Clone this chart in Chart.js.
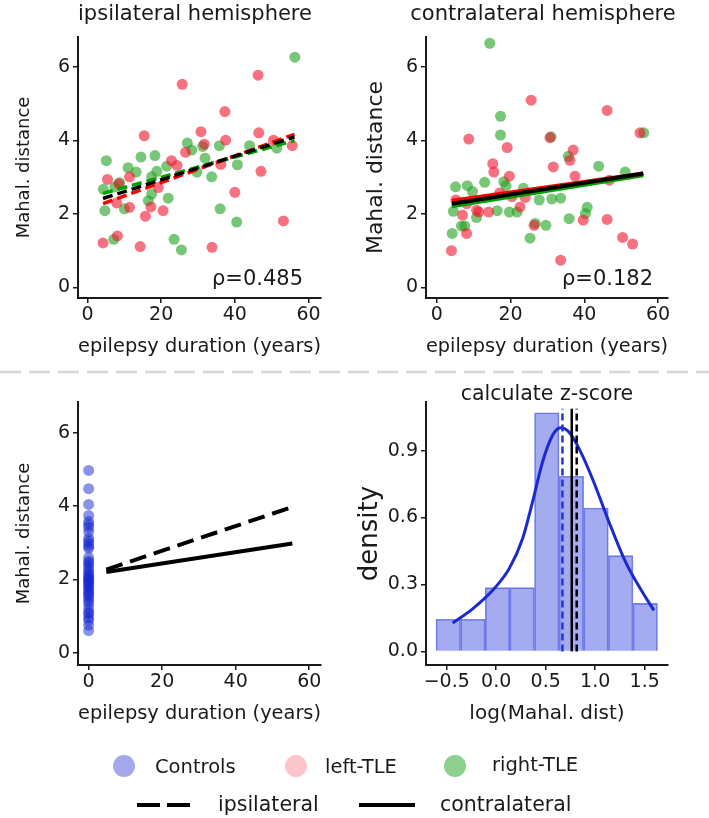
<!DOCTYPE html>
<html>
<head>
<meta charset="utf-8">
<script src="https://cdn.jsdelivr.net/npm/chart.js@4.4.1/dist/chart.umd.min.js"></script>
<style>
  html, body { margin: 0; padding: 0; background: #fff; }
  #page { position: relative; width: 709px; height: 818px; overflow: hidden; background: #fff; }
  canvas { position: absolute; }
  svg { position: absolute; left: 0; top: 0; pointer-events: none; }
</style>
</head>
<body>
<div id="page">
  <canvas id="ipsi" width="350" height="365" style="left:0;top:0"></canvas>
  <canvas id="contra" width="359" height="365" style="left:350px;top:0"></canvas>
  <canvas id="controls" width="350" height="365" style="left:0;top:370px"></canvas>
  <canvas id="zscore" width="359" height="365" style="left:350px;top:370px"></canvas>
  <svg width="709" height="818" font-family="DejaVu Sans" fill="#1a1a1a">
    <line x1="0" y1="372" x2="709" y2="372" stroke="#d5d5d5" stroke-width="2.5" stroke-dasharray="21 8"/>
    <text x="195" y="13" text-anchor="middle" dominant-baseline="central" font-size="21">ipsilateral hemisphere</text>
    <text x="543" y="13" text-anchor="middle" dominant-baseline="central" font-size="21">contralateral hemisphere</text>
    <text x="547" y="393" text-anchor="middle" dominant-baseline="central" font-size="20.5">calculate z-score</text>
    <text x="303" y="278" text-anchor="end" dominant-baseline="central" font-size="21">ρ=0.485</text>
    <text x="653" y="278" text-anchor="end" dominant-baseline="central" font-size="21">ρ=0.182</text>
    <circle cx="124" cy="766" r="11" fill="#a3a8ec"/>
    <text x="155" y="766" dominant-baseline="central" font-size="19.5">Controls</text>
    <circle cx="296" cy="766" r="11" fill="#fdc5ca"/>
    <text x="325" y="766" dominant-baseline="central" font-size="19.5">left-TLE</text>
    <circle cx="455" cy="766" r="11" fill="#8fcf8f"/>
    <text x="492" y="764" dominant-baseline="central" font-size="19.5">right-TLE</text>
    <line x1="137" y1="805" x2="193" y2="805" stroke="#000" stroke-width="4" stroke-dasharray="23 7"/>
    <text x="218" y="804" dominant-baseline="central" font-size="20.5">ipsilateral</text>
    <line x1="359" y1="805" x2="415" y2="805" stroke="#000" stroke-width="4"/>
    <text x="440" y="804" dominant-baseline="central" font-size="20.5">contralateral</text>
  </svg>
</div>
<script>
// tick labels
const durationTicks = [0, 20, 40, 60];
const distTicks = [0, 2, 4, 6];
const densityTicks = [0, 0.3, 0.6, 0.9];
const logTicks = [-0.5, 0, 0.5, 1, 1.5];

// ipsilateral hemisphere: [epilepsy duration, Mahal. distance]
const ipsiLeft = [
  [4.2, 1.21], [5.4, 2.94], [8.1, 1.40], [7.9, 2.30], [8.5, 2.82], [11.4, 2.18], [11.4, 3.01],
  [14.3, 1.11], [15.4, 4.13], [15.7, 1.94], [17.2, 2.19], [19.2, 2.72], [20.5, 2.09], [22.8, 3.45],
  [24.3, 3.32], [25.7, 5.53], [26.6, 3.68], [30.8, 4.24], [31.7, 3.90], [33.8, 1.09], [36.2, 3.35],
  [37.3, 4.79], [37.5, 4.01], [40.0, 2.59], [46.3, 5.78], [46.5, 4.21], [47.1, 3.16], [50.5, 4.01],
  [53.2, 1.81], [55.6, 3.86]
];
const ipsiRight = [
  [4.3, 2.67], [5.1, 3.45], [4.7, 2.09], [7.1, 1.31], [7.4, 2.74], [8.7, 2.85], [10.0, 2.14],
  [11.0, 3.26], [13.2, 3.14], [14.5, 3.55], [16.5, 2.36], [17.4, 2.54], [17.4, 3.01], [18.3, 3.59],
  [18.8, 3.16], [21.9, 2.43], [21.5, 3.30], [23.5, 1.31], [25.5, 1.02], [27.1, 3.93], [28.3, 3.74],
  [29.7, 3.14], [31.3, 3.84], [31.9, 3.52], [33.7, 3.01], [35.8, 3.86], [36.0, 2.14], [40.7, 3.34],
  [40.5, 1.78], [44.0, 3.86], [51.4, 3.79], [56.3, 6.27]
];
const ipsiFitLeft = [[4.2, 2.28], [56.2, 4.17]];
const ipsiFitRight = [[4.2, 2.56], [56.2, 4.0]];
const ipsiFitAll = [[4.2, 2.42], [56.2, 4.10]];

// contralateral hemisphere
const contraLeft = [
  [4.0, 1.0], [5.2, 2.38], [7.0, 1.97], [8.1, 1.47], [8.7, 4.04], [8.1, 2.28], [10.8, 2.10],
  [11.4, 2.05], [14.1, 2.05], [15.2, 3.37], [15.5, 3.14], [17.1, 2.57], [19.1, 3.81], [19.7, 3.03],
  [20.4, 2.47], [22.6, 2.19], [24.0, 2.45], [25.6, 5.10], [26.4, 1.69], [30.7, 4.08], [31.6, 3.28],
  [33.6, 0.74], [36.1, 3.46], [37.0, 3.74], [37.5, 3.03], [39.7, 1.83], [46.2, 4.82], [46.2, 1.85],
  [46.8, 2.92], [50.4, 1.36], [53.1, 1.18], [55.1, 4.21]
];
const contraRight = [
  [4.2, 1.47], [4.5, 2.07], [5.1, 2.74], [6.7, 1.67], [7.6, 1.67], [8.3, 2.77], [9.7, 2.61],
  [10.8, 1.90], [13.0, 2.86], [14.4, 6.65], [16.4, 2.09], [17.3, 4.15], [17.3, 4.66], [18.2, 2.88],
  [18.8, 2.77], [19.7, 2.05], [21.8, 2.05], [23.5, 2.70], [25.3, 1.34], [26.7, 1.74], [27.8, 2.38],
  [29.6, 1.69], [31.0, 4.10], [31.2, 2.41], [33.6, 2.43], [35.7, 3.57], [35.9, 1.87], [40.3, 2.01],
  [40.8, 2.18], [43.9, 3.30], [51.1, 3.14], [56.1, 4.21]
];
const contraFitLeft = [[4.1, 2.36], [56.0, 3.10]];
const contraFitRight = [[4.1, 2.21], [56.0, 3.05]];
const contraFitAll = [[4.1, 2.28], [56.0, 3.10]];

// controls (duration 0) and group fits
const controlDist = [
  4.98, 4.48, 4.05, 3.75, 3.58, 3.5, 3.42, 3.3, 3.12, 3.05, 2.98, 2.9, 2.85, 2.6, 2.5, 2.45,
  2.38, 2.3, 2.22, 2.15, 2.1, 2.05, 2.0, 1.97, 1.92, 1.88, 1.82, 1.78, 1.72, 1.65, 1.6, 1.55,
  1.48, 1.4, 1.32, 1.2, 1.1, 1.05, 0.95, 0.88, 0.75, 0.6
];
const groupFitIpsi = [[4.8, 2.27], [55.4, 3.98]];
const groupFitContra = [[4.8, 2.2], [55.4, 2.98]];

// z-score histogram + density
const binCenters = [-0.484, -0.235, 0.013, 0.262, 0.511, 0.759, 1.008, 1.257, 1.505];
const binDensity = [0.144, 0.144, 0.286, 0.286, 1.070, 0.785, 0.643, 0.429, 0.215];
const kdeX = [-0.44, -0.238, -0.036, 0.131, 0.266, 0.367, 0.468, 0.569, 0.652, 0.736, 0.837, 0.972, 1.139, 1.307, 1.476, 1.593];
const kdeY = [0.127, 0.191, 0.274, 0.371, 0.505, 0.670, 0.849, 0.969, 1.003, 0.983, 0.909, 0.774, 0.580, 0.400, 0.266, 0.184];
const controlMean = 0.669;
const contraMean = 0.763;
const ipsiMean = 0.813;
const vlineTop = 1.088;

const ink = '#1a1a1a';
const red = 'rgba(240,20,45,0.6)';
const green = 'rgba(30,160,30,0.6)';
const blue = 'rgba(20,40,210,0.5)';

const pts = (arr) => arr.map(([x, y]) => ({ x, y }));
const minus = (s) => s.replace('-', '\u2212');

const makeAxis = ({ min, max, ticks, size, horizontal, title, titleSize, titlePad, fmt }) => ({
  type: 'linear',
  min,
  max,
  offset: false,
  afterBuildTicks: (s) => { s.ticks = ticks.map((v) => ({ value: v })); },
  afterFit: (s) => { if (horizontal) s.height = size; else s.width = size; },
  ticks: {
    color: ink,
    font: { family: 'DejaVu Sans', size: 19 },
    padding: horizontal ? 1 : 3,
    maxRotation: 0,
    autoSkip: false,
    callback: fmt || ((v) => String(v))
  },
  grid: { drawOnChartArea: false, drawTicks: true, tickLength: 5, color: ink, lineWidth: 1.5, offset: false },
  border: { display: true, color: ink, width: 2 },
  title: { display: true, text: title, color: ink, font: { family: 'DejaVu Sans', size: titleSize }, padding: titlePad }
});

const dots = (data, color, order) => ({
  data: pts(data), backgroundColor: color, borderWidth: 0, pointRadius: 5.5, order
});
const fit = (data, color, dash, width, order) => ({
  data: pts(data), showLine: true, borderColor: color, borderWidth: width,
  borderDash: dash, pointRadius: 0, order
});

const baseOptions = (pad, x, y) => ({
  responsive: false,
  animation: false,
  devicePixelRatio: 1,
  layout: { padding: pad },
  plugins: { legend: { display: false }, tooltip: { enabled: false } },
  scales: { x, y }
});

const durationAxis = (min, max, size, pad) => makeAxis({
  min, max, ticks: durationTicks, size, horizontal: true,
  title: 'epilepsy duration (years)', titleSize: 20, titlePad: { top: 0, bottom: pad }
});
const distAxis = (min, max, size, titleSize, pad) => makeAxis({
  min, max, ticks: distTicks, size, horizontal: false,
  title: 'Mahal. distance', titleSize, titlePad: { top: pad, bottom: 0 }
});

new Chart(document.getElementById('ipsi'), {
  type: 'scatter',
  data: {
    datasets: [
      fit(ipsiFitAll, '#000', [10, 5], 3.5, 0),
      fit(ipsiFitLeft, '#ff0000', [10, 5], 3.5, 1),
      fit(ipsiFitRight, '#00a000', [10, 5], 3.5, 2),
      dots(ipsiLeft, red, 5),
      dots(ipsiRight, green, 6)
    ]
  },
  options: baseOptions({ top: 37, right: 29, bottom: 0, left: 0 },
    durationAxis(-2.6, 63.4, 67, 6), distAxis(-0.29, 6.82, 78, 18, 13.2))
});

new Chart(document.getElementById('contra'), {
  type: 'scatter',
  data: {
    datasets: [
      fit(contraFitAll, '#000', [], 4, 0),
      fit(contraFitLeft, '#ff0000', [], 4, 1),
      fit(contraFitRight, '#00a000', [], 4, 2),
      dots(contraLeft, red, 5),
      dots(contraRight, green, 6)
    ]
  },
  options: baseOptions({ top: 37, right: 41, bottom: 0, left: 0 },
    durationAxis(-2.9, 62.7, 67, 6), distAxis(-0.29, 6.82, 76, 22, 13.5))
});

new Chart(document.getElementById('controls'), {
  type: 'scatter',
  data: {
    datasets: [
      fit(groupFitIpsi, '#000', [17, 8], 4, 0),
      fit(groupFitContra, '#000', [], 4, 1),
      dots(controlDist.map((d) => [0, d]), blue, 5)
    ]
  },
  options: baseOptions({ top: 32, right: 29, bottom: 0, left: 0 },
    durationAxis(-2.9, 63.2, 70, 9.7), distAxis(-0.34, 6.85, 78, 18, 13.2))
});

const vline = (xv, color, dash) => ({
  type: 'line',
  data: [{ x: xv, y: 0 }, { x: xv, y: vlineTop }],
  borderColor: color, borderWidth: 2.5, borderDash: dash, pointRadius: 0, order: 0
});

new Chart(document.getElementById('zscore'), {
  type: 'bar',
  data: {
    datasets: [
      vline(controlMean, '#2236d6', [7, 4]),
      vline(contraMean, '#000', []),
      vline(ipsiMean, '#000', [7, 4]),
      {
        type: 'line',
        data: kdeX.map((x, i) => ({ x, y: kdeY[i] })),
        borderColor: '#1a2ad0', borderWidth: 3, pointRadius: 0,
        cubicInterpolationMode: 'monotone', order: 1
      },
      {
        type: 'bar',
        data: binCenters.map((x, i) => ({ x, y: binDensity[i] })),
        backgroundColor: 'rgba(65,80,225,0.48)',
        borderColor: 'rgba(70,85,230,0.7)',
        borderWidth: 1,
        barPercentage: 1,
        categoryPercentage: 1,
        order: 10
      }
    ]
  },
  options: baseOptions({ top: 32, right: 41, bottom: 0, left: 0 },
    makeAxis({
      min: -0.709, max: 1.735, ticks: logTicks, size: 70, horizontal: true,
      title: 'log(Mahal. dist)', titleSize: 20, titlePad: { top: 0, bottom: 9.7 },
      fmt: (v) => minus(v.toFixed(1))
    }),
    makeAxis({
      min: -0.061, max: 1.118, ticks: densityTicks, size: 76, horizontal: false,
      title: 'density', titleSize: 26, titlePad: { top: 4.4, bottom: 0 },
      fmt: (v) => v.toFixed(1)
    }))
});
</script>
</body>
</html>
